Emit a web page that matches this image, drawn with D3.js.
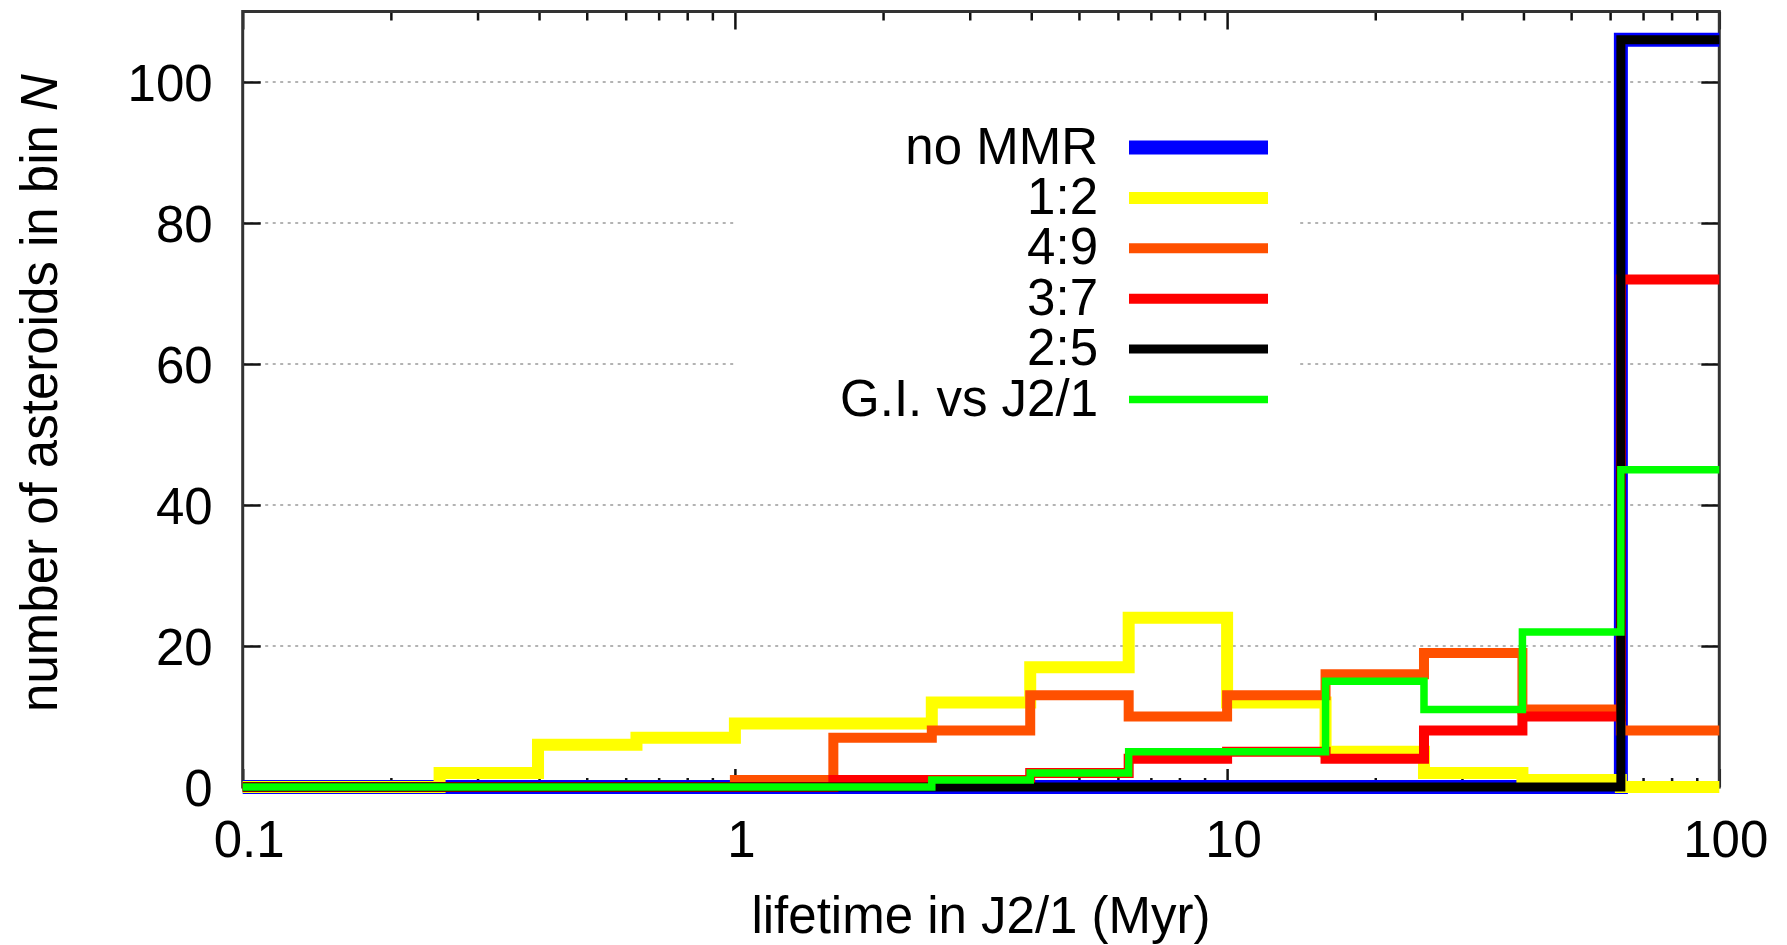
<!DOCTYPE html>
<html>
<head>
<meta charset="utf-8">
<script src="https://cdn.jsdelivr.net/npm/d3@7"></script>
<style>
  body { margin: 0; background: #fff; }
  text { font-family: "Liberation Sans", Arial, Helvetica, sans-serif; fill: #000; }
</style>
</head>
<body>
<div id="chart"></div>
<script>
// bin edges of the lifetime histogram (Myr), 0.2 dex wide
const binEdges = [0.1, 0.1585, 0.2512, 0.3981, 0.631, 1, 1.585, 2.512, 3.981, 6.31, 10, 15.85, 25.12, 39.81, 63.1, 100];

// counts per bin
const noMMR  = [0, 0, 0, 0, 0, 0, 0, 0, 0, 0, 0, 0, 0, 0, 106];
const res12  = [0, 0, 2, 6, 7, 9, 9, 12, 17, 24, 12, 5, 2, 1, 0];
const res49  = [0, 0, 0, 0, 0, 1, 7, 8, 13, 10, 13, 16, 19, 11, 8];
const res37  = [0, 0, 0, 0, 0, 0, 1, 1, 2, 4, 5, 4, 8, 10, 72];
const res25  = [0, 0, 0, 0, 0, 0, 0, 0, 0, 0, 0, 0, 0, 0, 106];
const giJ21  = [0, 0, 0, 0, 0, 0, 0, 1, 2, 5, 5, 15, 11, 22, 45];

const seriesNames  = ["no MMR", "1:2", "4:9", "3:7", "2:5", "G.I. vs J2/1"];
const seriesColors = ["#0000ff", "#ffff00", "#ff5000", "#ff0000", "#000000", "#00ff00"];
const seriesWidths = [14, 12, 10, 10, 9, 7.5];
const allSeries = [noMMR, res12, res49, res37, res25, giJ21];

const yTicks = [0, 20, 40, 60, 80, 100];
const xTicks = [0.1, 1, 10, 100];
const xTickLabels = ["0.1", "1", "10", "100"];
const xMinorTicks = [0.2, 0.3, 0.4, 0.5, 0.6, 0.7, 0.8, 0.9,
                     2, 3, 4, 5, 6, 7, 8, 9,
                     20, 30, 40, 50, 60, 70, 80, 90];

const svgWidth = 1787;
const svgHeight = 945;
const margin = { top: 11.5, right: 67.7, bottom: 158, left: 242.7 };
const width = svgWidth - margin.left - margin.right;
const height = svgHeight - margin.top - margin.bottom;
const fontSize = 51;

const svg = d3.select("#chart")
  .append("svg")
  .attr("width", svgWidth)
  .attr("height", svgHeight)
  .style("background", "#fff");

const g = svg.append("g")
  .attr("transform", `translate(${margin.left},${margin.top})`);

const x = d3.scaleLog().domain([0.1, 100]).range([0, width]);
const y = d3.scaleLinear().domain([0, 110]).range([height, 0]);

// dotted grid
g.append("g")
  .selectAll("line")
  .data(yTicks.filter(d => d > 0))
  .enter()
  .append("line")
  .attr("x1", 0)
  .attr("x2", width)
  .attr("y1", d => y(d))
  .attr("y2", d => y(d))
  .attr("stroke", "#9a9a9a")
  .attr("stroke-width", 1.5)
  .attr("stroke-dasharray", "3,4.5");

// key box clears the grid behind it
g.append("rect")
  .attr("x", 735 - margin.left)
  .attr("y", 118 - margin.top)
  .attr("width", 1297 - 735)
  .attr("height", 428 - 118)
  .attr("fill", "#fff");

// axes: inward ticks
function styleAxis(sel) {
  sel.select(".domain").remove();
  sel.selectAll(".tick line").attr("stroke", "#111").attr("stroke-width", 2.5);
  sel.selectAll("text")
    .style("font-size", fontSize + "px")
    .style("font-family", '"Liberation Sans", Arial, sans-serif')
    .attr("fill", "#000");
}

const leftAxis = g.append("g")
  .call(d3.axisLeft(y).tickValues(yTicks).tickSize(-18).tickPadding(30))
  .call(styleAxis);
leftAxis.selectAll("text").attr("dy", "0.36em");

g.append("g")
  .attr("transform", `translate(${width},0)`)
  .call(d3.axisRight(y).tickValues(yTicks).tickSize(-18).tickFormat(""))
  .call(styleAxis);

const bottomAxis = g.append("g")
  .attr("transform", `translate(0,${height})`)
  .call(d3.axisBottom(x).tickValues(xTicks).tickSize(-18).tickPadding(34)
    .tickFormat((d, i) => xTickLabels[i]))
  .call(styleAxis);
bottomAxis.selectAll("text").attr("dx", 6);

g.append("g")
  .attr("transform", `translate(0,${height})`)
  .call(d3.axisBottom(x).tickValues(xMinorTicks).tickSize(-9).tickFormat(""))
  .call(styleAxis);

g.append("g")
  .call(d3.axisTop(x).tickValues(xTicks).tickSize(-18).tickFormat(""))
  .call(styleAxis);

g.append("g")
  .call(d3.axisTop(x).tickValues(xMinorTicks).tickSize(-9).tickFormat(""))
  .call(styleAxis);

// border
g.append("rect")
  .attr("x", 0)
  .attr("y", 0)
  .attr("width", width)
  .attr("height", height)
  .attr("fill", "none")
  .attr("stroke", "#333")
  .attr("stroke-width", 3);

// histogram steps
const stepLine = d3.line()
  .x(d => x(d[0]))
  .y(d => y(d[1]))
  .curve(d3.curveStepAfter);

allSeries.forEach((vals, i) => {
  const pts = vals.map((v, j) => [binEdges[j], v]);
  pts.push([binEdges[binEdges.length - 1], vals[vals.length - 1]]);
  g.append("path")
    .datum(pts)
    .attr("d", stepLine)
    .attr("fill", "none")
    .attr("stroke", seriesColors[i])
    .attr("stroke-width", seriesWidths[i])
    .attr("stroke-linejoin", "miter")
    .attr("stroke-linecap", "butt");
});

// key
const key = svg.append("g");
seriesNames.forEach((name, i) => {
  const cy = 147.5 + i * 50.4;
  key.append("text")
    .attr("x", 1098)
    .attr("y", cy + 16)
    .attr("text-anchor", "end")
    .style("font-size", fontSize + "px")
    .text(name);
  key.append("line")
    .attr("x1", 1129)
    .attr("x2", 1268)
    .attr("y1", cy)
    .attr("y2", cy)
    .attr("stroke", seriesColors[i])
    .attr("stroke-width", seriesWidths[i]);
});

// axis titles
svg.append("text")
  .attr("x", margin.left + width / 2)
  .attr("y", 933)
  .attr("text-anchor", "middle")
  .style("font-size", fontSize + "px")
  .text("lifetime in J2/1 (Myr)");

const yTitle = svg.append("text")
  .attr("transform", "translate(57,393) rotate(-90)")
  .attr("text-anchor", "middle")
  .style("font-size", fontSize + "px");
yTitle.append("tspan").text("number of asteroids in bin ");
yTitle.append("tspan").style("font-style", "italic").text("N");
</script>
</body>
</html>
